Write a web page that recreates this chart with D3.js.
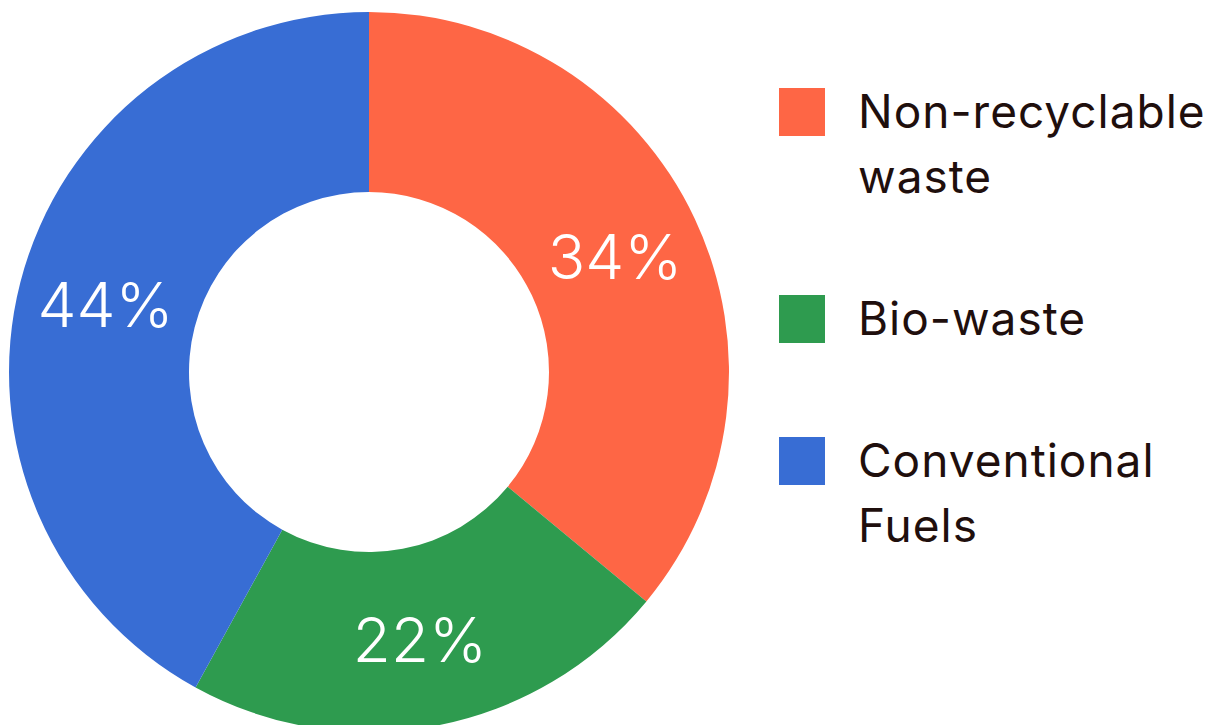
<!DOCTYPE html>
<meta charset="utf-8">
<script src="https://d3js.org/d3.v7.min.js"></script>
<style>
  body { margin: 0; background: #fff; }
</style>
<div id="donut_chart"></div>
<script>
  // data
  const categories = ["Non-recyclable waste", "Bio-waste", "Conventional Fuels"];
  const legendLines = [["Non-recyclable", "waste"], ["Bio-waste"], ["Conventional", "Fuels"]];
  const shares = [36, 22, 42];
  const shareLabels = ["34%", "22%", "44%"];
  const colours = ["#FE6645", "#2E9B4F", "#386DD4"];

  const width = 1218, height = 725;
  const cx = 369, cy = 372, outerR = 360, innerR = 180;

  const svg = d3.select("#donut_chart")
    .append("svg")
      .attr("width", width)
      .attr("height", height)
      .style("background", "#fff");

  const g = svg.append("g")
    .attr("transform", "translate(" + cx + "," + cy + ")");

  const rows = categories.map((c, i) => ({ name: c, value: shares[i], label: shareLabels[i], lines: legendLines[i] }));

  const pie = d3.pie().value(d => d.value).sort(null);
  const arc = d3.arc().innerRadius(innerR).outerRadius(outerR);
  const labelArc = d3.arc().innerRadius(272).outerRadius(272);

  const color = d3.scaleOrdinal().domain(categories).range(colours);

  g.selectAll("path")
    .data(pie(rows))
    .enter()
    .append("path")
      .attr("d", arc)
      .attr("fill", d => color(d.data.name));

  g.selectAll("text.pct")
    .data(pie(rows))
    .enter()
    .append("text")
      .attr("class", "pct")
      .attr("transform", d => "translate(" + labelArc.centroid(d) + ")")
      .attr("text-anchor", "middle")
      .attr("dy", "0.36em")
      .attr("font-family", "Inter, sans-serif")
      .attr("font-weight", 300)
      .attr("font-size", 62)
      .attr("fill", "#fff")
      .text(d => d.data.label);

  // legend: each item is as tall as its text lines plus a gap
  const lineH = 65, gap = 77;
  let acc = 112;
  rows.forEach(d => { d.ly = acc; acc += d.lines.length * lineH + gap; });

  const legend = svg.append("g")
    .selectAll("g")
    .data(rows)
    .enter()
    .append("g")
      .attr("transform", d => "translate(779," + d.ly + ")");

  legend.append("rect")
    .attr("x", 0)
    .attr("y", -24)
    .attr("width", 46)
    .attr("height", 48)
    .attr("fill", d => color(d.name));

  legend.append("text")
    .attr("x", 79)
    .attr("y", 16)
    .attr("font-family", "Inter, sans-serif")
    .attr("font-size", 46)
    .attr("letter-spacing", 1)
    .attr("fill", "#1F0F0D")
    .selectAll("tspan")
    .data(d => d.lines)
    .enter()
    .append("tspan")
      .attr("x", 79)
      .attr("dy", (d, i) => i === 0 ? 0 : lineH)
      .text(d => d);
</script>
